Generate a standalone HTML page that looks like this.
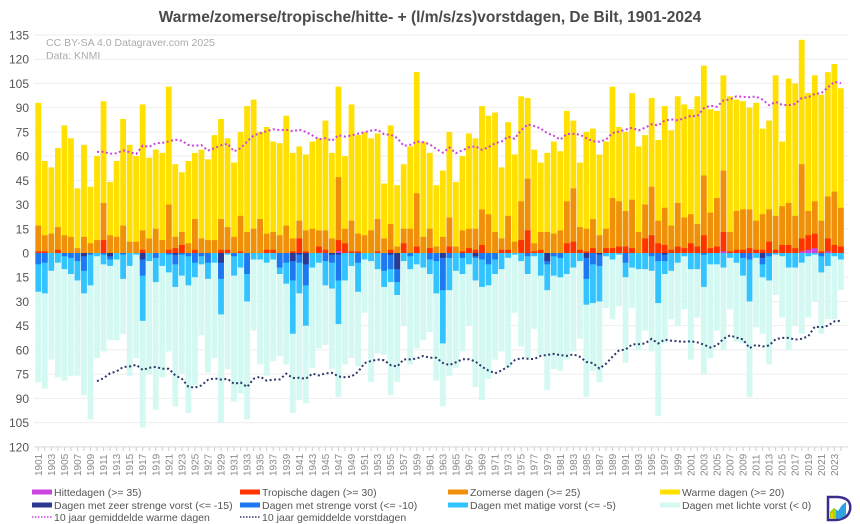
<!DOCTYPE html>
<html><head><meta charset="utf-8"><style>
html,body{margin:0;padding:0;background:#fff;}
svg{display:block;font-family:"Liberation Sans",sans-serif;}
</style></head><body>
<svg id="c" width="860" height="524" viewBox="0 0 860 524" xmlns="http://www.w3.org/2000/svg">
<text x="430" y="22" text-anchor="middle" font-size="15.5" font-weight="bold" fill="#4a4a4a">Warme/zomerse/tropische/hitte- + (l/m/s/zs)vorstdagen, De Bilt, 1901-2024</text>
<text x="46" y="46" font-size="10.5" fill="#aaa">CC BY-SA 4.0 Datagraver.com 2025</text>
<text x="46" y="59" font-size="10.5" fill="#aaa">Data: KNMI</text>
<g id="g"></g>
</svg>
<script>
const W=[93,57,53,65,79,71,40,67,41,60,94,44,57,83,67,60,92,59,64,62,103,55,50,57,62,64,58,73,83,71,56,75,91,95,75,78,69,68,85,62,66,
61,69,71,82,62,103,60,92,73,75,71,74,43,79,42,55,66,112,69,62,42,51,75,44,60,74,71,91,85,87,53,81,61,97,96,64,56,62,69,63,88,
82,56,75,77,61,69,103,78,75,99,66,73,96,70,91,76,97,92,89,97,116,89,88,110,97,95,94,90,93,77,82,110,69,108,105,132,99,110,98,112,117,102];
const O=[17,11,12,16,11,10,3,10,6,8,31,11,10,17,7,7,14,9,15,8,30,10,13,6,21,9,8,8,21,16,10,23,13,15,21,12,13,11,17,9,20,
14,15,14,14,9,47,15,20,12,11,14,21,9,18,4,15,15,37,10,15,4,10,22,4,14,15,15,27,24,13,9,23,7,32,46,6,13,13,12,14,32,
40,16,15,21,11,15,34,32,26,33,13,30,41,20,28,17,31,22,24,18,48,25,34,51,13,26,27,27,20,24,27,23,29,31,23,55,26,32,20,35,38,28];
const Rm={1901:1,1902:1,1904:2,1911:8,1917:2,1921:2,1922:3,1923:5,1925:2,1929:2,1930:2,1932:1,1936:2,1937:2,1940:1,1941:9,1942:1,1944:4,1945:2,1947:8,1948:6,1949:1,1950:1,1953:1,1955:2,1957:6,1959:4,1961:3,1964:4,1966:1,1967:3,1968:2,1969:5,1972:2,1973:2,1975:8,1976:14,1977:1,1978:2,1982:6};
const R83=[7,2,1,3,0,3,3,4,4,3,0,9,11,6,5,2,4,3,6,4,11,3,4,13,1,2,2,3,2,2,7,2,5,5,3,9,11,12,1,9,5,4];
R83.forEach((v,i)=>Rm[1983+i]=v);
const Hm={1947:1,2006:1,2018:1,2019:2,2020:3,2022:1};
const L=[80,84,66,77,79,76,76,88,103,65,61,54,54,50,76,65,108,75,97,77,61,95,75,99,82,51,74,65,105,72,92,87,103,48,69,76,67,64,69,99,91,
93,71,59,57,72,89,69,65,70,37,80,62,63,88,80,45,69,59,54,49,79,95,76,71,61,45,83,91,78,66,61,71,37,58,65,47,63,85,72,73,66,
61,53,89,73,80,34,41,33,68,34,60,48,61,101,56,41,45,35,66,40,75,65,48,60,35,55,56,89,46,50,69,26,40,60,45,50,40,30,50,41,41,23];
const M=[24,25,11,6,10,13,17,25,20,2,7,8,4,16,8,1,42,5,18,8,12,21,14,20,15,7,16,6,38,1,14,9,30,4,4,6,4,13,19,50,25,
45,9,6,20,22,44,17,8,24,4,5,10,21,18,26,5,10,7,9,13,25,56,23,11,13,7,17,21,20,13,10,3,1,5,13,2,14,23,14,15,13,
9,5,32,31,30,2,4,1,15,9,10,10,11,31,13,11,6,2,10,10,21,7,7,9,3,6,14,30,3,15,17,1,2,9,9,6,2,1,12,8,2,4];
const S=[7,6,0,0,2,3,5,11,1,0,1,4,0,1,0,0,14,0,3,0,1,7,1,2,6,2,6,0,16,0,2,0,13,0,0,0,0,9,6,17,6,
20,0,0,5,6,17,0,0,6,0,0,0,11,10,18,0,2,0,0,4,5,23,3,0,3,0,3,4,7,4,0,0,0,0,2,0,0,7,2,3,0,
0,0,16,7,8,0,0,0,6,0,0,0,2,5,5,0,0,0,0,0,1,0,0,0,0,0,3,4,0,7,2,0,0,0,0,0,0,0,2,0,0,0];
const Zm={1908:2,1912:2,1917:4,1922:1,1929:6,1940:5,1941:1,1942:7,1946:1,1947:1,1955:1,1956:10,1963:3,1968:2,1979:5,1985:3,1987:1,1997:1,2012:3};
const Y0=253,K=1.615,X0=38.3,DX=6.525,BW=5.8;
const y=v=>Y0-v*K, cx=i=>X0+DX*i;
let s='';
for(let v=135;v>=-120;v-=15){
  s+=`<line x1="34" x2="848" y1="${y(v)}" y2="${y(v)}" stroke="#eeeeee" stroke-width="1"/>`;
  s+=`<text x="29" y="${y(v)+4.5}" text-anchor="end" font-size="12" fill="#555">${Math.abs(v)}</text>`;
}
s+=`<line x1="34" x2="848" y1="447" y2="447" stroke="#ddd"/>`;
function rect(i,a,b,c){const t=Math.min(y(a),y(b)),h=Math.abs(y(a)-y(b)); if(h<=0)return ''; return `<rect x="${(cx(i)-BW/2).toFixed(2)}" y="${t.toFixed(2)}" width="${BW}" height="${h.toFixed(2)}" fill="${c}"/>`;}
for(let i=0;i<124;i++){
  const yr=1901+i;
  s+=rect(i,0,W[i],'#FFE000');
  s+=rect(i,0,O[i],'#F0900A');
  s+=rect(i,0,Rm[yr]||0,'#FF3300');
  s+=rect(i,0,Hm[yr]||0,'#CC44DD');
  s+=rect(i,0,-L[i],'#D4F8F2');
  s+=rect(i,0,-M[i],'#33C4FF');
  s+=rect(i,0,-S[i],'#1E78F0');
  s+=rect(i,0,-(Zm[yr]||0),'#2B3990');
  s+=`<line x1="${cx(i)}" x2="${cx(i)}" y1="447" y2="451" stroke="#ccc"/>`;
  if(i%2==0) s+=`<text transform="translate(${cx(i)+3.5},476) rotate(-90)" font-size="10" fill="#888">${yr}</text>`;
}
let pw=[],pf=[];
for(let i=9;i<124;i++){
  let a=0,b=0;for(let j=i-9;j<=i;j++){a+=W[j];b+=L[j];}
  pw.push(cx(i).toFixed(1)+','+y(a/10).toFixed(1));
  pf.push(cx(i).toFixed(1)+','+y(-b/10).toFixed(1));
}
s+=`<polyline points="${pw.join(' ')}" fill="none" stroke="#CC44DD" stroke-width="2" stroke-dasharray="2 2.5"/>`;
s+=`<polyline points="${pf.join(' ')}" fill="none" stroke="#2B3A67" stroke-width="2" stroke-dasharray="2 2.5"/>`;
const leg=[
 [32,492,'#CC44DD','Hittedagen (>= 35)',0],[240,492,'#FF3300','Tropische dagen (>= 30)',0],[448,492,'#F0900A','Zomerse dagen (>= 25)',0],[660,492,'#FFE000','Warme dagen (>= 20)',0],
 [32,505,'#2B3990','Dagen met zeer strenge vorst (<= -15)',0],[240,505,'#1E78F0','Dagen met strenge vorst (<= -10)',0],[448,505,'#33C4FF','Dagen met matige vorst (<= -5)',0],[660,505,'#D4F8F2','Dagen met lichte vorst (< 0)',0],
 [32,517,'#CC44DD','10 jaar gemiddelde warme dagen',1],[240,517,'#2B3A67','10 jaar gemiddelde vorstdagen',1]];
leg.forEach(([x,yy,c,t,d])=>{
  if(d) s+=`<line x1="${x}" x2="${x+20}" y1="${yy}" y2="${yy}" stroke="${c}" stroke-width="1.6" stroke-dasharray="1.5 1.5"/>`;
  else s+=`<rect x="${x}" y="${yy-2.5}" width="20" height="5" fill="${c}"/>`;
  s+=`<text x="${x+22}" y="${yy+4}" font-size="10.5" fill="#555">${t.replace(/</g,'&lt;').replace(/>/g,'&gt;')}</text>`;
});
s+=`<path d="M828 497 L838 497 Q852 498 850 510 Q848 519 836 520 L828 520 Z" fill="#fff" stroke="#3a2d8c" stroke-width="2.5"/>`;
s+=`<path d="M830 518 L830 512 L834 508 L838 511 L842 505 L846 502 L846 515 L840 519 Z" fill="#2fa3e0"/>`;
s+=`<path d="M830 518 L830 512 L834 508 L836 510 L836 519 Z" fill="#a8d400"/>`;
s+=`<path d="M831 518 L831 514 L833 512 L833 519 Z" fill="#f5d000"/>`;
document.getElementById('g').innerHTML=s;
</script>
</body></html>
